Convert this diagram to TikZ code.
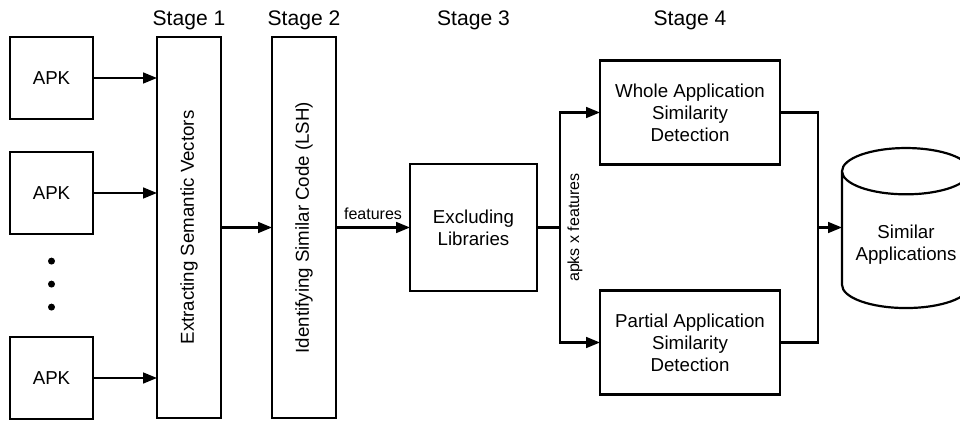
\documentclass[tikz,border=0pt]{standalone}
\usepackage{fontspec}
\setmainfont{Liberation Sans}
\usepackage{graphicx}
\usetikzlibrary{positioning,arrows.meta,shapes.geometric,calc}
\tikzset{
	>={Triangle[length=3.5mm,width=2.7mm]}
}

\begin{document}
\begin{tikzpicture}[
node distance = 0mm,
line width = 0.55mm,
every node/.style = {
	font = \fontsize{13.3}{15.6}\selectfont,
	outer sep = 0pt
},
apk/.style = {
	draw,
	minimum width = 20.75mm,
	minimum height = 20.5mm
},
stagebox/.style = {
	draw,
	minimum width = 16mm,
	minimum height = 95.25mm
},
block/.style = {
	draw,
	align = center,
	minimum width = 45mm,
	minimum height = 26mm
},
stagetitle/.style = {
	inner sep = 0pt,
	font = \fontsize{15}{18}\selectfont
},
edgetext/.style = {
	font = \fontsize{11.4}{13}\selectfont
},
dot/.style = {
	circle,
	fill,
	inner sep = 0pt,
	minimum size = 1.75mm
}
]

\useasboundingbox (0,0) rectangle (240mm,-105.75mm);

% input apps
\node (apk1) [apk] at (12.875mm,-19.5mm) {APK};
\node (apk2) [apk, below = 8.25mm of apk1] {APK};
\node (apk3) [apk, below = 25.75mm of apk2] {APK};
\node (dot1) [dot, below = 5.9mm of apk2] {};
\node (dot2) [dot, below = 4mm of dot1] {};
\node (dot3) [dot, below = 4mm of dot2] {};

% stages
\node (stage1) [stagebox, right = 16mm of apk1.north east, anchor = north west] {\rotatebox{90}{Extracting Semantic Vectors}};
\node (stage2) [stagebox, right = 12.75mm of stage1] {\rotatebox{90}{Identifying Similar Code (LSH)}};
\node (excl) [draw, align=center, minimum width=31.75mm, minimum height=31.75mm, right = 18.5mm of stage2] {Excluding\\Libraries};
\coordinate [right = 5.75mm of excl] (split);
\node (whole) [block, anchor = west] at ($(split)+(10mm,28.75mm)$) {Whole Application\\Similarity\\Detection};
\node (partial) [block, anchor = west] at ($(split)+(10mm,-28.75mm)$) {Partial Application\\Similarity\\Detection};
\coordinate (merge) at ($(whole.east)!0.5!(partial.east)+(9.5mm,0)$);
\node (simapps) [draw, cylinder, shape border rotate=90, aspect=0.42, align=center, minimum width=32mm, minimum height=40mm] at ($(merge)+(22mm,-4.25mm)$) {Similar\\Applications};

% stage titles
\node (titleone) [stagetitle, above = 1.8mm of stage1] {Stage 1};
\node (titletwo) [stagetitle] at (titleone -| stage2) {Stage 2};
\node (titlethree) [stagetitle] at (titleone -| excl) {Stage 3};
\node (titlefour) [stagetitle] at (titleone -| whole) {Stage 4};

% connectors
\draw[->] (apk1) -- (apk1 -| stage1.west);
\draw[->] (apk2) -- (apk2 -| stage1.west);
\draw[->] (apk3) -- (apk3 -| stage1.west);
\draw[->] (stage1) -- (stage2);
\draw[->] (stage2) -- node (featlbl) [edgetext, above = 0.7mm] {features} (excl);
\draw (excl) -- (split);
\draw[->] (split) |- (whole);
\draw[->] (split) |- (partial);
\node (apkslbl) [edgetext, rotate = 90] at ($(split)+(3.75mm,0)$) {apks x features};
\draw (whole) -| (merge) |- (partial);
\draw[->] (merge) -- (merge -| simapps.west);

\end{tikzpicture}
\end{document}
